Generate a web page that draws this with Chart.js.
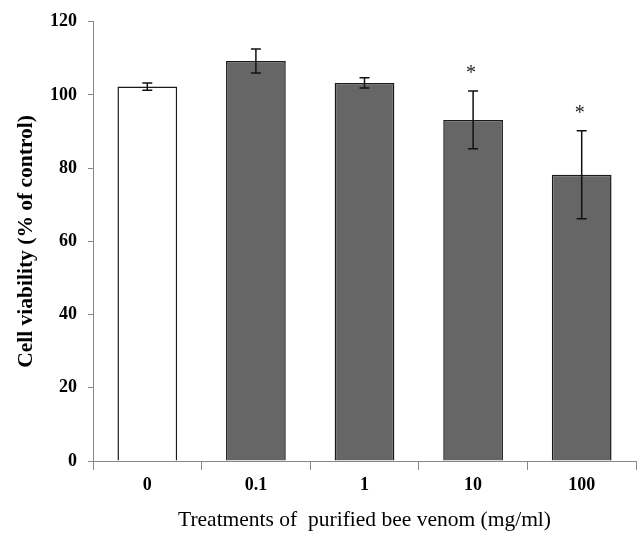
<!DOCTYPE html>
<html>
<head>
<meta charset="utf-8">
<script src="https://cdn.jsdelivr.net/npm/chart.js@4.4.0/dist/chart.umd.min.js"></script>
<style>
  html, body { margin: 0; padding: 0; background: #fff; }
  #wrap { width: 639px; height: 533px; }
</style>
</head>
<body>
<div id="wrap"><canvas id="chart" width="639" height="533"></canvas></div>
<script>
// données
const categories = ['0', '0.1', '1', '10', '100'];
const viability = [102.3, 109.3, 103.3, 93.2, 78.2];
const errors = [1.0, 3.3, 1.4, 7.9, 12.0];
const marks = ['', '', '', '*', '*'];
const yTicks = [0, 20, 40, 60, 80, 100, 120];

const serif = "'Liberation Serif', 'Times New Roman', serif";

// barres d'erreur + astérisques
const errorBars = {
    id: 'errorBars',
    afterDatasetsDraw(chart) {
        const ctx = chart.ctx;
        const meta = chart.getDatasetMeta(0);
        const y = chart.scales.y;
        ctx.save();
        ctx.strokeStyle = '#111';
        ctx.lineWidth = 1.5;
        meta.data.forEach((bar, i) => {
            const x = bar.x;
            const top = y.getPixelForValue(viability[i] + errors[i]);
            const bottom = y.getPixelForValue(viability[i] - errors[i]);
            ctx.beginPath();
            ctx.moveTo(x, top);
            ctx.lineTo(x, bottom);
            ctx.moveTo(x - 5, top);
            ctx.lineTo(x + 5, top);
            ctx.moveTo(x - 5, bottom);
            ctx.lineTo(x + 5, bottom);
            ctx.stroke();
            if (marks[i]) {
                ctx.fillStyle = '#222';
                ctx.font = '20px ' + serif;
                ctx.textAlign = 'center';
                ctx.textBaseline = 'middle';
                ctx.fillText(marks[i], x - 2, top - 17);
            }
        });
        ctx.restore();
    }
};

const ctx = document.getElementById('chart').getContext('2d');
new Chart(ctx, {
    type: 'bar',
    data: {
        labels: categories,
        datasets: [{
            data: viability,
            backgroundColor: ['#ffffff', '#666666', '#666666', '#666666', '#666666'],
            borderColor: '#1a1a1a',
            borderWidth: 1.5,
            barPercentage: 0.55,
            categoryPercentage: 1.0
        }]
    },
    options: {
        responsive: false,
        animation: false,
        layout: { padding: { top: 19, right: 3, left: 0, bottom: 0 } },
        plugins: {
            legend: { display: false },
            tooltip: { enabled: false }
        },
        scales: {
            x: {
                afterFit(scale) { scale.height = 72; },
                grid: {
                    offset: true,
                    drawOnChartArea: false,
                    drawTicks: true,
                    tickLength: 9,
                    color: '#888'
                },
                border: { color: '#888', width: 1 },
                ticks: {
                    color: '#000',
                    padding: 5,
                    font: { family: serif, size: 18, weight: 'bold' }
                },
                title: {
                    display: true,
                    text: 'Treatments of  purified bee venom (mg/ml)',
                    color: '#000',
                    padding: { top: 0, bottom: 0 },
                    font: { family: serif, size: 21.5 }
                }
            },
            y: {
                min: 0,
                max: 120,
                afterFit(scale) { scale.width = 93; },
                afterBuildTicks(scale) {
                    scale.ticks = yTicks.map(v => ({ value: v }));
                },
                grid: {
                    drawOnChartArea: false,
                    drawTicks: true,
                    tickLength: 5,
                    color: '#888'
                },
                border: { color: '#888', width: 1 },
                ticks: {
                    color: '#000',
                    padding: 11,
                    font: { family: serif, size: 18, weight: 'bold' }
                },
                title: {
                    display: true,
                    text: 'Cell viability (% of control)',
                    color: '#000',
                    padding: { top: 14, bottom: 0 },
                    font: { family: serif, size: 21.5, weight: 'bold' }
                }
            }
        }
    },
    plugins: [errorBars]
});
</script>
</body>
</html>
